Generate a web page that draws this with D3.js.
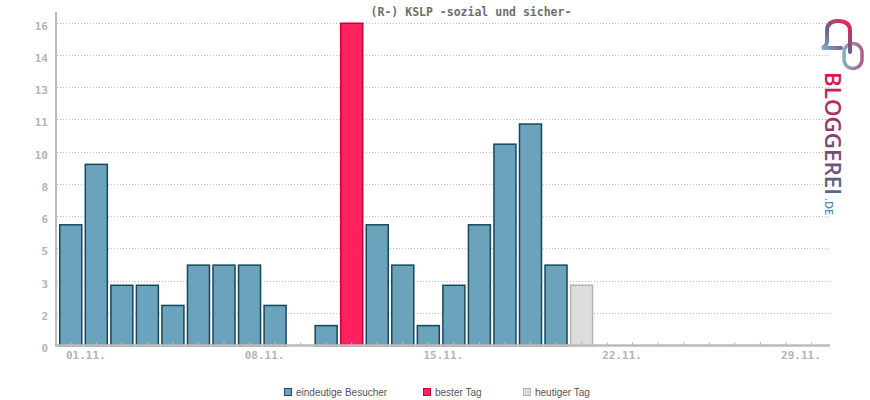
<!DOCTYPE html>
<html>
<head>
<meta charset="utf-8">
<script src="https://cdn.jsdelivr.net/npm/d3@7"></script>
<style>
  html, body { margin: 0; padding: 0; background: #fff; }
  svg { display: block; }
</style>
</head>
<body>
<svg id="chart" width="870" height="400"></svg>
<script>
const title = "(R-) KSLP -sozial und sicher-";
const days = ["01.11.","02.11.","03.11.","04.11.","05.11.","06.11.","07.11.","08.11.","09.11.","10.11.",
              "11.11.","12.11.","13.11.","14.11.","15.11.","16.11.","17.11.","18.11.","19.11.","20.11.",
              "21.11.","22.11.","23.11.","24.11.","25.11.","26.11.","27.11.","28.11.","29.11.","30.11."];
const visitors = [6, 9, 3, 3, 2, 4, 4, 4, 2, 0, 1, 16, 6, 4, 1, 3, 6, 10, 11, 4, 3];
const bestDay = "12.11.";
const today = "21.11.";
const xTickLabels = ["01.11.", "08.11.", "15.11.", "22.11.", "29.11."];
const yTicks = [0, 1.6, 3.2, 4.8, 6.4, 8, 9.6, 11.2, 12.8, 14.4, 16];
const yTickLabels = ["0", "2", "3", "5", "6", "8", "10", "11", "13", "14", "16"];
const legendLabels = ["eindeutige Besucher", "bester Tag", "heutiger Tag"];

const colors = {
  normal: { fill: "#6aa3bb", stroke: "#17475a" },
  best:   { fill: "#ff2060", stroke: "#c4003a" },
  today:  { fill: "#dcdcdc", stroke: "#b4b4b4" }
};

const svg = d3.select("#chart");
const x = d3.scaleBand().domain(days).range([58, 824.2]).paddingInner(0.08).paddingOuter(0.04);
const y = d3.scaleLinear().domain([0, 16]).range([345, 22.5]);

const data = visitors.map((v, i) => ({ day: days[i], value: v,
  kind: days[i] === bestDay ? "best" : (days[i] === today ? "today" : "normal") }));

// grid
svg.append("g").selectAll("line").data(yTicks.slice(1)).join("line")
  .attr("x1", 57).attr("x2", 830)
  .attr("y1", d => Math.round(y(d)) + 0.5).attr("y2", d => Math.round(y(d)) + 0.5)
  .attr("stroke", "#bdbdbd").attr("stroke-width", 1).attr("stroke-dasharray", "1,2");

// bars
svg.append("g").selectAll("rect").data(data.filter(d => d.value > 0)).join("rect")
  .attr("x", d => x(d.day) + 0.75)
  .attr("width", x.bandwidth() - 1.5)
  .attr("y", d => y(d.value) + 0.75)
  .attr("height", d => y(0) - y(d.value))
  .attr("fill", d => colors[d.kind].fill)
  .attr("stroke", d => colors[d.kind].stroke)
  .attr("stroke-width", 1.5);

// y axis
const yAxis = d3.axisLeft(y).tickValues(yTicks).tickSize(0)
  .tickFormat((d, i) => yTickLabels[i]);
const yg = svg.append("g").attr("transform", "translate(56,0)").call(yAxis);
yg.select(".domain").remove();
yg.selectAll("text").attr("x", -8).attr("y", 0).attr("dy", 6.5)
  .attr("fill", "#b4b4b4").attr("font-family", "DejaVu Sans Mono").attr("font-weight", "bold")
  .attr("font-size", 11);
svg.append("line").attr("x1", 56).attr("x2", 56).attr("y1", 12).attr("y2", 346)
  .attr("stroke", "#bbbbbb").attr("stroke-width", 2);

// x axis
const xAxis = d3.axisBottom(x).tickSize(0).tickFormat(d => xTickLabels.includes(d) ? d : "");
const xg = svg.append("g").attr("transform", "translate(0,345)").call(xAxis);
xg.select(".domain").remove();
xg.selectAll(".tick line").remove();
xg.selectAll(".tick").append("line").attr("y1", -3).attr("y2", 1)
  .attr("stroke", "#bbbbbb").attr("stroke-width", 1);
svg.append("line").attr("x1", 55).attr("x2", 830).attr("y1", 345.5).attr("y2", 345.5)
  .attr("stroke", "#bbbbbb").attr("stroke-width", 2.5);
xg.selectAll("text").attr("x", 15).attr("y", 14).attr("dy", 0)
  .attr("fill", "#b4b4b4").attr("font-family", "DejaVu Sans Mono").attr("font-weight", "bold")
  .attr("font-size", 11);

// title
svg.append("text").attr("x", 471).attr("y", 16).attr("text-anchor", "middle")
  .attr("font-family", "DejaVu Sans Mono").attr("font-weight", "bold").attr("font-size", 11.5)
  .attr("fill", "#6e6e6e").text(title);

// legend
const legendX = [284, 423, 523];
const legendKinds = ["normal", "best", "today"];
const lg = svg.append("g");
legendLabels.forEach((lbl, i) => {
  lg.append("rect").attr("x", legendX[i] + 0.5).attr("y", 388.5).attr("width", 7).attr("height", 7)
    .attr("fill", colors[legendKinds[i]].fill).attr("stroke", colors[legendKinds[i]].stroke).attr("stroke-width", 1);
  lg.append("text").attr("x", legendX[i] + 12).attr("y", 395.5)
    .attr("font-family", "Liberation Sans, Arial, sans-serif").attr("font-size", 10)
    .attr("fill", "#555").text(lbl);
});

// logo
const defs = svg.append("defs");
const g1 = defs.append("linearGradient").attr("id", "lg1").attr("gradientUnits", "userSpaceOnUse")
  .attr("x1", 822).attr("y1", 50).attr("x2", 852).attr("y2", 22);
g1.append("stop").attr("offset", 0).attr("stop-color", "#7fb3c8");
g1.append("stop").attr("offset", 0.45).attr("stop-color", "#6a5f86");
g1.append("stop").attr("offset", 1).attr("stop-color", "#ff1a50");
const g2 = defs.append("linearGradient").attr("id", "lg2").attr("gradientUnits", "userSpaceOnUse")
  .attr("x1", 842).attr("y1", 0).attr("x2", 864).attr("y2", 0);
g2.append("stop").attr("offset", 0).attr("stop-color", "#7fb3c8");
g2.append("stop").attr("offset", 1).attr("stop-color", "#b05a84");
const g3 = defs.append("linearGradient").attr("id", "lg3").attr("gradientUnits", "userSpaceOnUse")
  .attr("x1", 0).attr("y1", 0).attr("x2", 124).attr("y2", 0);
g3.append("stop").attr("offset", 0).attr("stop-color", "#e0124e");
g3.append("stop").attr("offset", 0.5).attr("stop-color", "#8e3a6c");
g3.append("stop").attr("offset", 1).attr("stop-color", "#4f6b8c");

const logo = svg.append("g");
logo.append("rect").attr("x", 844).attr("y", 43.5).attr("width", 18).attr("height", 25).attr("rx", 9)
  .attr("fill", "none").attr("stroke", "url(#lg2)").attr("stroke-width", 3.5);
logo.append("path")
  .attr("d", "M 841,48 L 822,48 Q 827,46 827,41 L 827,31 Q 827,21 838,21 Q 850,21 850,31 L 850,52")
  .attr("fill", "none").attr("stroke", "url(#lg1)").attr("stroke-width", 4).attr("stroke-linecap", "round");

const lt = logo.append("g").attr("transform", "translate(825,72) rotate(90)");
lt.append("text").attr("x", 0).attr("y", 0)
  .attr("font-family", "Open Sans, Lato, sans-serif").attr("font-weight", 600).attr("font-size", 21)
  .attr("textLength", 123).attr("lengthAdjust", "spacingAndGlyphs")
  .attr("fill", "url(#lg3)").text("BLOGGEREI");
lt.append("text").attr("x", 126).attr("y", 0)
  .attr("font-family", "Open Sans, Lato, sans-serif").attr("font-weight", 600).attr("font-size", 11)
  .attr("fill", "#4a8fb4").text(".DE");
</script>
</body>
</html>
